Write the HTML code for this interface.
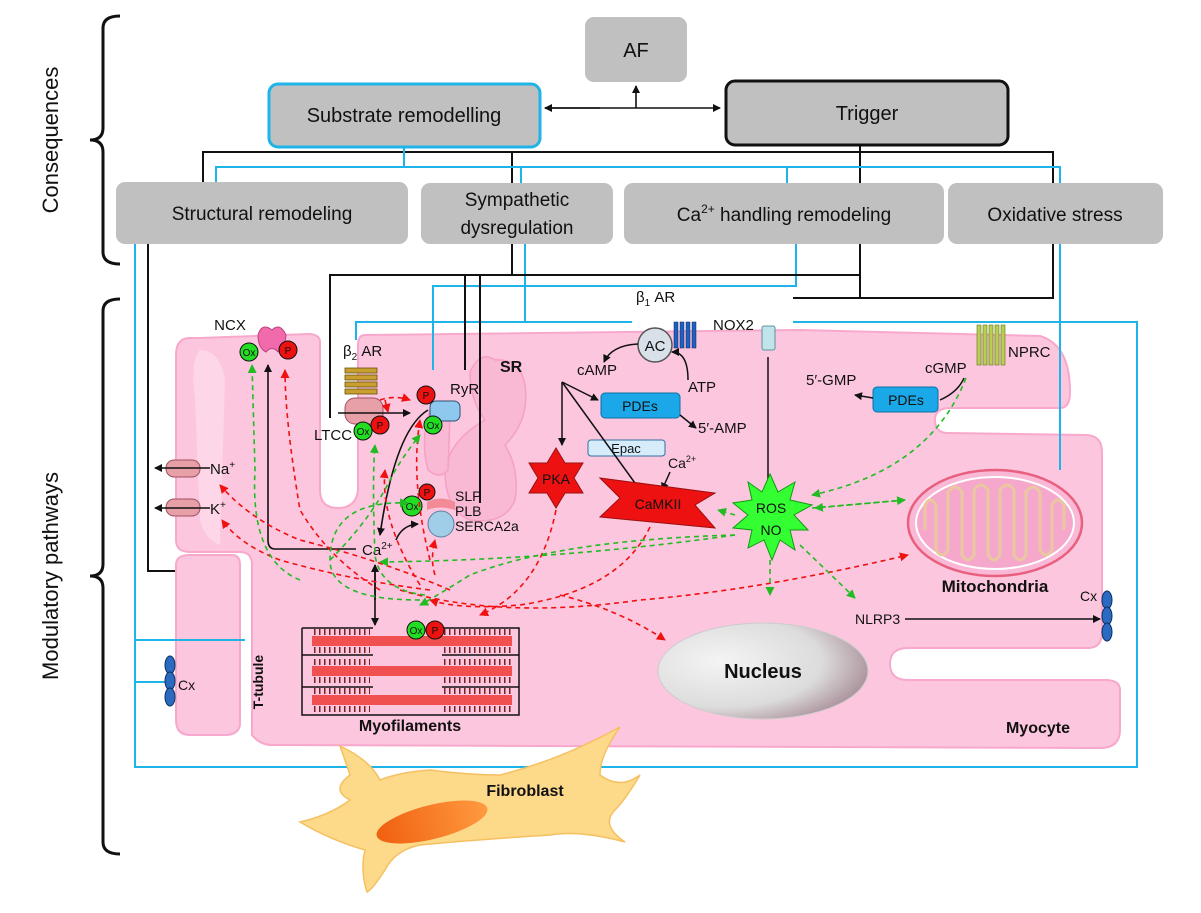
<!DOCTYPE html>
<html><head><meta charset="utf-8"><style>
html,body{margin:0;padding:0;background:#fff;width:1201px;height:913px;overflow:hidden}
svg{display:block}
text{font-family:"Liberation Sans",sans-serif;fill:#111}
</style></head><body>
<svg width="1201" height="913" viewBox="0 0 1201 913" xmlns="http://www.w3.org/2000/svg">
<defs>
<marker id="ab" markerWidth="8" markerHeight="8" refX="7" refY="4" orient="auto" markerUnits="userSpaceOnUse"><path d="M0,0 L8,4 L0,8 z" fill="#111"/></marker>
<marker id="ar" markerWidth="9" markerHeight="9" refX="8" refY="4.5" orient="auto" markerUnits="userSpaceOnUse"><path d="M0,0 L9,4.5 L0,9 z" fill="#f01010"/></marker>
<marker id="ag" markerWidth="9" markerHeight="9" refX="8" refY="4.5" orient="auto" markerUnits="userSpaceOnUse"><path d="M0,0 L9,4.5 L0,9 z" fill="#22bb22"/></marker>
<radialGradient id="nuc" cx="0.3" cy="0.4" r="0.8"><stop offset="0" stop-color="#f4f4f4"/><stop offset="0.6" stop-color="#dcdcdc"/><stop offset="1" stop-color="#9c7c88"/></radialGradient>
<linearGradient id="fbn" x1="0" x2="1"><stop offset="0" stop-color="#f06010"/><stop offset="1" stop-color="#ff9a40"/></linearGradient>
</defs>

<!-- brackets -->
<path d="M120,16 Q103,16 103,28 L103,128 Q103,140 90,140 Q103,140 103,152 L103,252 Q103,264 120,264" fill="none" stroke="#111" stroke-width="3"/>
<path d="M120,299 Q103,299 103,311 L103,564 Q103,576 90,576 Q103,576 103,588 L103,842 Q103,854 120,854" fill="none" stroke="#111" stroke-width="3"/>
<text transform="translate(58,140) rotate(-90)" font-size="22" text-anchor="middle">Consequences</text>
<text transform="translate(58,576) rotate(-90)" font-size="22" text-anchor="middle">Modulatory pathways</text>

<!-- top boxes -->
<rect x="585" y="17" width="102" height="65" rx="9" fill="#c0c0c0"/>
<text x="636" y="57" font-size="20" text-anchor="middle">AF</text>
<rect x="269" y="84" width="271" height="63" rx="9" fill="#c0c0c0" stroke="#1eb4e8" stroke-width="3"/>
<text x="404" y="122" font-size="20" text-anchor="middle">Substrate remodelling</text>
<rect x="726" y="81" width="282" height="64" rx="9" fill="#c0c0c0" stroke="#111" stroke-width="3"/>
<text x="867" y="120" font-size="20" text-anchor="middle">Trigger</text>
<line x1="545" y1="108" x2="720" y2="108" stroke="#111" stroke-width="1.6" marker-end="url(#ab)"/>
<line x1="600" y1="108" x2="545" y2="108" stroke="#111" stroke-width="1.6" marker-end="url(#ab)"/>
<line x1="636" y1="108" x2="636" y2="86" stroke="#111" stroke-width="1.6" marker-end="url(#ab)"/>

<!-- connector lines top -->
<g fill="none" stroke-width="2">
<path d="M203,183 L203,152 L1053,152 L1053,183" stroke="#111"/>
<path d="M512,152 L512,183 M860,145 L860,183" stroke="#111"/>
<path d="M216,183 L216,167 L1060,167 L1060,183 M404,147 L404,167 M521,167 L521,183 M787,167 L787,183" stroke="#1eb4e8"/>
</g>

<!-- second row boxes -->
<rect x="116" y="182" width="292" height="62" rx="9" fill="#c0c0c0"/>
<text x="262" y="220" font-size="19" text-anchor="middle">Structural remodeling</text>
<rect x="421" y="183" width="192" height="61" rx="9" fill="#c0c0c0"/>
<text x="517" y="206" font-size="19" text-anchor="middle">Sympathetic</text>
<text x="517" y="234" font-size="19" text-anchor="middle">dysregulation</text>
<rect x="624" y="183" width="320" height="61" rx="9" fill="#c0c0c0"/>
<text x="784" y="221" font-size="19" text-anchor="middle">Ca<tspan font-size="12" dy="-8">2+</tspan><tspan dy="8"> handling remodeling</tspan></text>
<rect x="948" y="183" width="215" height="61" rx="9" fill="#c0c0c0"/>
<text x="1055" y="221" font-size="19" text-anchor="middle">Oxidative stress</text>

<!-- cell -->
<path d="M190,338 Q176,338 176,355 L176,540 Q176,552 190,552 L240,552 Q252,552 252,565 L252,735 Q260,745 272,745 L1100,748 Q1120,748 1120,730 L1120,690 Q1120,680 1105,680 L908,680 Q890,680 890,664 Q890,648 908,648 L1088,648 Q1102,648 1102,632 L1102,452 Q1102,435 1085,435 L948,433 Q935,433 935,420 Q935,408 950,408 L1060,408 Q1070,408 1070,392 Q1070,345 1040,336 L800,330 L365,335 Q358,335 358,345 L358,490 Q356,508 338,508 Q320,508 320,490 L320,342 Q320,335 310,334 L200,338 Z" fill="#fcc6de" stroke="#f7a8cc" stroke-width="2"/>
<path d="M176,565 Q176,555 190,555 L232,555 Q240,555 240,565 L240,725 Q238,735 225,735 L190,735 Q176,735 176,720 Z" fill="#fcc6de" stroke="#f7a8cc" stroke-width="2"/>
<path d="M200,350 Q190,360 195,400 L200,520 Q205,540 220,545 L225,380 Q220,350 200,350 Z" fill="#fdd6e8"/>
<!-- SR -->
<path d="M495,360 Q480,350 470,372 Q470,400 485,420 Q450,440 445,470 Q445,510 470,520 Q505,525 515,500 Q520,470 505,445 Q530,420 525,385 Q520,358 495,360 Z" fill="#f9b9d5" stroke="#f5a0c4" stroke-width="1.5"/>
<path d="M430,410 Q420,440 428,470 Q440,480 448,470 L450,415 Q442,400 430,410 Z" fill="#f9b9d5" stroke="#f5a0c4" stroke-width="1.5"/>

<!-- myocyte blue/black pathway lines -->
<g fill="none" stroke-width="2">
<path d="M135,244 L135,767 L1137,767 L1137,322 L793,322" stroke="#1eb4e8"/>
<path d="M135,640 L245,640 M135,682 L168,682" stroke="#1eb4e8"/>
<path d="M148,244 L148,571 L175,571" stroke="#111"/>
<path d="M525,244 L525,322 L356,322 L356,340" stroke="#1eb4e8"/>
<path d="M796,244 L796,286 L433,286 L433,370" stroke="#1eb4e8"/>
<path d="M525,322 L632,322" stroke="#1eb4e8"/>
<path d="M1060,244 L1060,470" stroke="#1eb4e8"/>
<path d="M512,244 L512,275 M330,418 L330,275 L860,275 M465,275 L465,370 M480,275 L480,503" stroke="#111"/>
<path d="M860,244 L860,298 L793,298 M860,298 L1053,298 L1053,244" stroke="#111"/>
</g>

<!-- mitochondria -->
<ellipse cx="995" cy="523" rx="87" ry="53" fill="#f9b8d6" stroke="#e8607e" stroke-width="2.5"/>
<ellipse cx="995" cy="523" rx="79" ry="46" fill="#f6a8cc" stroke="#fff" stroke-width="2"/>
<path d="M925,530 L925,505 Q930,495 936,505 L936,550 Q942,560 948,550 L948,492 Q955,482 962,492 L962,555 Q968,565 974,555 L974,490 Q981,480 988,490 L988,555 Q994,565 1000,555 L1000,490 Q1007,480 1014,490 L1014,555 Q1020,565 1026,555 L1026,492 Q1033,482 1040,492 L1040,550 Q1046,560 1052,550 L1052,505 Q1058,495 1064,505 L1064,530" fill="none" stroke="#e9c8a0" stroke-width="3"/>
<text x="995" y="592" font-size="17" font-weight="bold" text-anchor="middle">Mitochondria</text>

<!-- nucleus -->
<ellipse cx="763" cy="671" rx="105" ry="48" fill="url(#nuc)" stroke="#ccc"/>
<text x="763" y="678" font-size="20" font-weight="bold" text-anchor="middle">Nucleus</text>

<!-- myofilaments -->
<g stroke="#111" stroke-width="1.5" fill="none">
<path d="M302,628 L373,628 M442,628 L519,628 L519,715 L302,715 L302,628 M302,655 L373,655 M442,655 L519,655 M302,687 L373,687 M442,687 L519,687"/>
</g>
<g fill="#f05050">
<rect x="312" y="636" width="200" height="10"/>
<rect x="312" y="666" width="200" height="10"/>
<rect x="312" y="695" width="200" height="10"/>
</g>
<g stroke="#7a2020" stroke-dasharray="1.5 3.5" stroke-width="6">
<path d="M314,632 L370,632 M314,650 L370,650 M444,632 L514,632 M444,650 L514,650 M314,662 L370,662 M314,680 L370,680 M444,662 L514,662 M444,680 L514,680 M314,691 L370,691 M314,709 L370,709 M444,691 L514,691 M444,709 L514,709"/>
</g>
<circle cx="416" cy="630" r="9" fill="#22dd22" stroke="#111"/><text x="416" y="634" font-size="10" text-anchor="middle">Ox</text>
<circle cx="435" cy="630" r="9" fill="#ee1111" stroke="#111"/><text x="435" y="634" font-size="10" text-anchor="middle">P</text>
<text x="410" y="731" font-size="16" font-weight="bold" text-anchor="middle">Myofilaments</text>
<text transform="translate(263,682) rotate(-90)" font-size="14" font-weight="bold" text-anchor="middle">T-tubule</text>
<text x="1070" y="733" font-size="16" font-weight="bold" text-anchor="end">Myocyte</text>

<!-- fibroblast -->
<path d="M340,746 Q370,760 380,780 Q400,772 430,770 Q470,775 500,775 Q560,760 620,727 Q600,755 600,775 Q620,790 640,775 Q625,800 615,810 Q600,825 625,842 Q580,830 550,835 Q470,840 420,845 Q395,850 385,870 Q372,890 367,892 Q360,870 365,850 Q330,840 300,822 Q330,815 350,800 Q330,790 350,775 Q345,760 340,746 Z" fill="#fdd98a" stroke="#f5c060" stroke-width="1.5"/>
<ellipse cx="432" cy="822" rx="57" ry="17" transform="rotate(-14 432 822)" fill="url(#fbn)"/>
<text x="525" y="796" font-size="16" font-weight="bold" text-anchor="middle">Fibroblast</text>

<!-- channels -->
<g>
<path d="M258,335 Q262,322 272,330 Q280,322 286,335 Q285,348 278,352 Q272,345 266,352 Q258,348 258,335 Z" fill="#f06aac" stroke="#c04080"/>
<circle cx="249" cy="352" r="9" fill="#22dd22" stroke="#111"/><text x="249" y="356" font-size="10" text-anchor="middle">Ox</text>
<circle cx="288" cy="350" r="9" fill="#ee1111" stroke="#111"/><text x="288" y="354" font-size="10" text-anchor="middle">P</text>
<text x="230" y="330" font-size="15" text-anchor="middle">NCX</text>
<rect x="166" y="460" width="34" height="17" rx="8" fill="#e8a0a8" stroke="#a05060"/>
<rect x="166" y="499" width="34" height="17" rx="8" fill="#e8a0a8" stroke="#a05060"/>
<line x1="210" y1="468" x2="155" y2="468" stroke="#111" stroke-width="1.6" marker-end="url(#ab)"/>
<line x1="210" y1="508" x2="155" y2="508" stroke="#111" stroke-width="1.6" marker-end="url(#ab)"/>
<text x="210" y="474" font-size="15">Na<tspan font-size="10" dy="-6">+</tspan></text>
<text x="210" y="514" font-size="15">K<tspan font-size="10" dy="-6">+</tspan></text>
<g fill="#c8a030" stroke="#6a5010" stroke-width="0.8">
<rect x="345" y="368" width="32" height="5"/><rect x="345" y="375" width="32" height="5"/><rect x="345" y="382" width="32" height="5"/><rect x="345" y="389" width="32" height="5"/>
</g>
<text x="343" y="356" font-size="15">β<tspan font-size="10" dy="4">2</tspan><tspan dy="-4"> AR</tspan></text>
<rect x="345" y="398" width="38" height="26" rx="10" fill="#e8a0a8" stroke="#a05060"/>
<line x1="338" y1="413" x2="410" y2="413" stroke="#111" stroke-width="1.6" marker-end="url(#ab)"/>
<circle cx="363" cy="431" r="9" fill="#22dd22" stroke="#111"/><text x="363" y="435" font-size="10" text-anchor="middle">Ox</text>
<circle cx="380" cy="425" r="9" fill="#ee1111" stroke="#111"/><text x="380" y="429" font-size="10" text-anchor="middle">P</text>
<text x="314" y="440" font-size="15">LTCC</text>
<rect x="430" y="401" width="30" height="20" rx="6" fill="#8ec8ee" stroke="#305070"/>
<circle cx="426" cy="395" r="9" fill="#ee1111" stroke="#111"/><text x="426" y="399" font-size="10" text-anchor="middle">P</text>
<circle cx="433" cy="425" r="9" fill="#22dd22" stroke="#111"/><text x="433" y="429" font-size="10" text-anchor="middle">Ox</text>
<text x="450" y="394" font-size="15">RyR</text>
<text x="500" y="372" font-size="16" font-weight="bold">SR</text>
<path d="M427,502 Q440,495 455,502 L455,510 Q440,505 427,510 Z" fill="#f28a98"/>
<circle cx="441" cy="524" r="13" fill="#a0cde8" stroke="#6080a0"/>
<circle cx="427" cy="492" r="8" fill="#ee1111" stroke="#111"/><text x="427" y="496" font-size="10" text-anchor="middle">P</text>
<circle cx="412" cy="506" r="10" fill="#22dd22" stroke="#111"/><text x="412" y="510" font-size="10" text-anchor="middle">Ox</text>
<text x="455" y="501" font-size="14">SLP</text>
<text x="455" y="516" font-size="14">PLB</text>
<text x="455" y="531" font-size="14">SERCA2a</text>
<text x="362" y="555" font-size="15">Ca<tspan font-size="10" dy="-6">2+</tspan></text>
</g>

<g fill="none" stroke="#111" stroke-width="1.6">
<path d="M356,549 L275,549 Q268,549 268,540 L268,365" marker-end="url(#ab)"/>
<path d="M428,410 Q395,430 380,535" marker-end="url(#ab)"/>
<path d="M396,540 Q402,525 418,524" marker-end="url(#ab)"/>
<path d="M375,565 L375,625" marker-end="url(#ab)"/>
<path d="M375,600 L375,565" marker-end="url(#ab)"/>
</g>

<!-- right side signalling -->
<circle cx="655" cy="345" r="17" fill="#d8e0ea" stroke="#555" stroke-width="1.5"/>
<text x="655" y="351" font-size="15" text-anchor="middle">AC</text>
<g fill="#2060c0" stroke="#102060" stroke-width="0.5"><rect x="674" y="322" width="4" height="26"/><rect x="680" y="322" width="4" height="26"/><rect x="686" y="322" width="4" height="26"/><rect x="692" y="322" width="4" height="26"/></g>
<text x="636" y="302" font-size="15">β<tspan font-size="10" dy="4">1</tspan><tspan dy="-4"> AR</tspan></text>
<path d="M688,380 Q688,352 672,352" fill="none" stroke="#111" stroke-width="1.5" marker-end="url(#ab)"/>
<path d="M638,344 Q612,345 604,362" fill="none" stroke="#111" stroke-width="1.5" marker-end="url(#ab)"/>
<text x="688" y="392" font-size="15">ATP</text>
<text x="577" y="375" font-size="15">cAMP</text>
<rect x="601" y="393" width="79" height="25" rx="4" fill="#1ba8e8" stroke="#1070a0"/>
<text x="640" y="411" font-size="14" text-anchor="middle">PDEs</text>
<text x="698" y="433" font-size="15">5′-AMP</text>
<rect x="588" y="440" width="77" height="16" rx="3" fill="#d6ecfa" stroke="#3070a0"/>
<text x="626" y="453" font-size="13" text-anchor="middle">Epac</text>
<text x="668" y="468" font-size="14">Ca<tspan font-size="9" dy="-6">2+</tspan></text>
<g fill="none" stroke="#111" stroke-width="1.5">
<path d="M562,382 L562,445" marker-end="url(#ab)"/>
<path d="M562,382 L598,400" marker-end="url(#ab)"/>
<path d="M562,382 L640,490" marker-end="url(#ab)"/>
<path d="M680,415 L696,428" marker-end="url(#ab)"/>
<path d="M670,472 L662,490" marker-end="url(#ab)"/>
</g>
<path d="M556,448 L565,463 L583,463 L574,478 L583,493 L565,493 L556,508 L547,493 L529,493 L538,478 L529,463 L547,463 Z" fill="#ee1111" stroke="#991111"/>
<text x="556" y="484" font-size="14" text-anchor="middle">PKA</text>
<path d="M600,478 L715,493 L695,505 L715,528 L600,517 L620,498 Z" fill="#ee1111" stroke="#991111"/>
<text x="658" y="509" font-size="14" text-anchor="middle">CaMKII</text>
<rect x="762" y="326" width="13" height="24" rx="2" fill="#bfe4ea" stroke="#6090a0"/>
<text x="713" y="330" font-size="15">NOX2</text>
<line x1="768" y1="357" x2="768" y2="498" stroke="#111" stroke-width="1.5" marker-end="url(#ab)"/>
<path d="M770,474 L778,492 L795,482 L790,500 L812,505 L794,515 L808,530 L790,530 L795,550 L780,540 L772,560 L764,540 L748,548 L752,530 L733,528 L748,515 L733,503 L752,500 L748,482 L762,492 Z" fill="#33ff33" stroke="#119911"/>
<text x="771" y="513" font-size="14" text-anchor="middle">ROS</text>
<text x="771" y="535" font-size="14" text-anchor="middle">NO</text>
<g fill="#b8d050" stroke="#607020" stroke-width="0.6"><rect x="977" y="325" width="4" height="40"/><rect x="983" y="325" width="4" height="40"/><rect x="989" y="325" width="4" height="40"/><rect x="995" y="325" width="4" height="40"/><rect x="1001" y="325" width="4" height="40"/></g>
<text x="1008" y="357" font-size="15">NPRC</text>
<text x="925" y="373" font-size="15">cGMP</text>
<rect x="873" y="387" width="65" height="25" rx="4" fill="#1ba8e8" stroke="#1070a0"/>
<text x="906" y="405" font-size="14" text-anchor="middle">PDEs</text>
<text x="806" y="385" font-size="15">5′-GMP</text>
<path d="M940,400 Q958,392 964,378" fill="none" stroke="#111" stroke-width="1.5"/>
<line x1="873" y1="398" x2="855" y2="395" stroke="#111" stroke-width="1.5" marker-end="url(#ab)"/>
<text x="855" y="624" font-size="14">NLRP3</text>
<line x1="905" y1="619" x2="1100" y2="619" stroke="#111" stroke-width="1.5" marker-end="url(#ab)"/>
<text x="1080" y="601" font-size="14">Cx</text>
<g fill="#2a6ac0" stroke="#103060"><ellipse cx="1107" cy="600" rx="5" ry="9"/><ellipse cx="1107" cy="616" rx="5" ry="9"/><ellipse cx="1107" cy="632" rx="5" ry="9"/></g>
<text x="178" y="690" font-size="14">Cx</text>
<g fill="#2a6ac0" stroke="#103060"><ellipse cx="170" cy="665" rx="5" ry="9"/><ellipse cx="170" cy="681" rx="5" ry="9"/><ellipse cx="170" cy="697" rx="5" ry="9"/></g>

<g fill="none" stroke="#f01010" stroke-width="1.6" stroke-dasharray="5 4" marker-end="url(#ar)">
<path d="M380,400 Q395,395 410,400"/>
<path d="M385,400 L388,412"/>
<path d="M650,527 Q620,590 520,605 Q460,610 430,600"/>
<path d="M556,510 Q540,590 480,615"/>
<path d="M560,595 Q620,610 665,640"/>
<path d="M400,590 Q500,620 640,600 Q760,590 908,555"/>
<path d="M380,590 Q330,560 300,510 Q285,420 285,370"/>
<path d="M450,590 Q380,560 300,540 Q250,520 220,485"/>
<path d="M430,590 Q350,580 280,560 Q240,545 222,520"/>
<path d="M420,585 Q380,520 385,470"/>
<path d="M430,560 Q410,480 420,420"/>
<path d="M435,575 Q430,560 435,540"/>
</g>
<g fill="none" stroke="#22bb22" stroke-width="1.6" stroke-dasharray="5 4" marker-end="url(#ag)">
<path d="M735,535 Q560,560 380,562"/>
<path d="M735,535 Q560,540 470,575 Q430,600 420,605"/>
<path d="M420,600 Q330,600 330,560 Q330,500 408,503"/>
<path d="M330,560 Q370,520 390,480 Q400,460 420,435"/>
<path d="M425,595 Q380,590 375,555 Q372,480 375,445"/>
<path d="M300,580 Q250,560 255,470 L252,365"/>
<path d="M735,515 L718,510"/>
<path d="M812,508 L905,500"/>
<path d="M905,500 L815,508"/>
<path d="M966,378 Q930,470 812,495"/>
<path d="M800,545 L855,598"/>
<path d="M770,560 L770,595"/>
</g>
</svg>
</body></html>
